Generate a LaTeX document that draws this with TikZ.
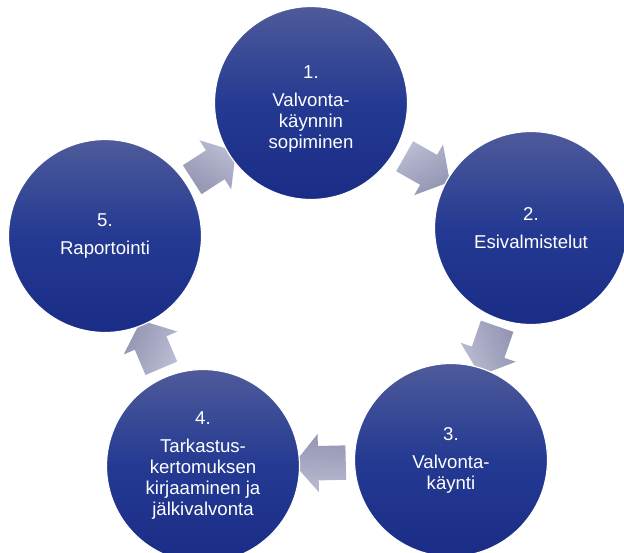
\documentclass[tikz,border=0pt]{standalone}
\usepackage{fontspec}
\setmainfont{Liberation Sans}
\usetikzlibrary{shapes.arrows,calc,backgrounds}
\definecolor{ctop}{RGB}{78,90,154}
\definecolor{cmid}{RGB}{36,58,146}
\definecolor{cbot}{RGB}{26,44,134}
\definecolor{atop}{RGB}{186,188,210}
\definecolor{abot}{RGB}{146,148,178}
\begin{document}
\begin{tikzpicture}[x=1pt,y=-1pt,
  stage/.style={circle, minimum size=193pt, inner sep=0pt, draw=white, line width=1.2pt,
    top color=ctop, bottom color=cbot, middle color=cmid, text=white,
    font=\fontsize{18.6}{21}\selectfont, align=center},
  blockarr/.style={single arrow, single arrow head extend=12pt, single arrow tip angle=100,
    minimum height=52pt, inner xsep=0pt, inner ysep=17pt, draw=none,
    top color=atop, bottom color=abot}
]
\useasboundingbox (0,0) rectangle (624,552);
\clip (0,0) rectangle (624,552);
\node[stage] (s1) at (311,103) {\rule{0pt}{25pt}1.\\[7pt]Valvonta-\\käynnin\\sopiminen};
\node[stage] (s2) at (531,228) {2.\\[7pt]Esivalmistelut};
\node[stage] (s3) at (451,460) {3.\\[7pt]Valvonta-\\käynti};
\node[stage] (s4) at (203,466) {4.\\[7pt]Tarkastus-\\kertomuksen\\kirjaaminen ja\\jälkivalvonta};
\node[stage] (s5) at (105,236) {5.\\[7pt]Raportointi};
\begin{scope}[on background layer]
\foreach \a/\b in {s1/s2,s2/s3,s3/s4,s4/s5,s5/s1}{
  \path let \p1=($(\b.center)-(\a.center)$), \n1={atan2(\y1,\x1)} in
    node[blockarr, rotate=\n1, shading angle={-\n1}] (arr-\a) at ($(\a.center)!0.5!(\b.center)$) {};
}
\end{scope}
\end{tikzpicture}
\end{document}
